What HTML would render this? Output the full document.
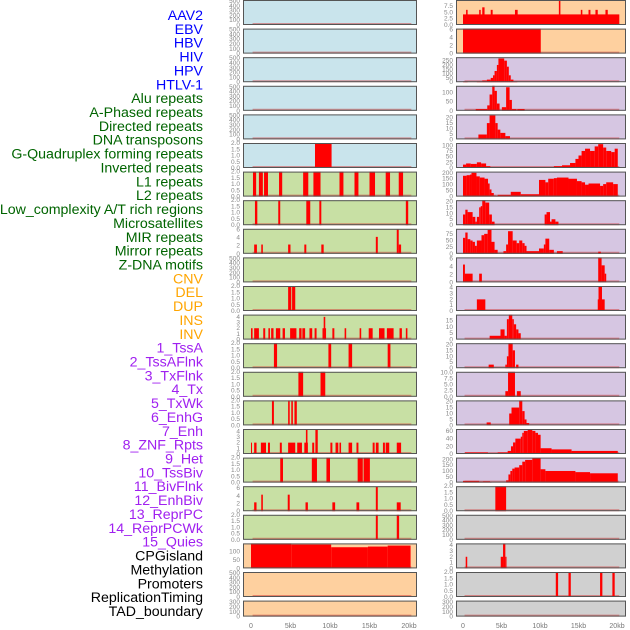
<!DOCTYPE html>
<html><head><meta charset="utf-8"><style>
html,body{margin:0;padding:0;background:#fff;width:630px;height:630px;overflow:hidden}
svg{display:block;font-family:"Liberation Sans",sans-serif}
</style></head><body>
<svg id="chart" width="630" height="630" viewBox="0 0 630 630" xmlns="http://www.w3.org/2000/svg"></svg>
<script>
const trackLabels = ["AAV2","EBV","HBV","HIV","HPV","HTLV-1","Alu repeats","A-Phased repeats","Directed repeats","DNA transposons","G-Quadruplex forming repeats","Inverted repeats","L1 repeats","L2 repeats","Low_complexity A/T rich regions","Microsatellites","MIR repeats","Mirror repeats","Z-DNA motifs","CNV","DEL","DUP","INS","INV","1_TssA","2_TssAFlnk","3_TxFlnk","4_Tx","5_TxWk","6_EnhG","7_Enh","8_ZNF_Rpts","9_Het","10_TssBiv","11_BivFlnk","12_EnhBiv","13_ReprPC","14_ReprPCWk","15_Quies","CPGisland","Methylation","Promoters","ReplicationTiming","TAD_boundary"];
const labelColors = ["#0000ff","#0000ff","#0000ff","#0000ff","#0000ff","#0000ff","#006400","#006400","#006400","#006400","#006400","#006400","#006400","#006400","#006400","#006400","#006400","#006400","#006400","#ffa500","#ffa500","#ffa500","#ffa500","#ffa500","#a020f0","#a020f0","#a020f0","#a020f0","#a020f0","#a020f0","#a020f0","#a020f0","#a020f0","#a020f0","#a020f0","#a020f0","#a020f0","#a020f0","#a020f0","#000000","#000000","#000000","#000000","#000000"];
const xTickKb = [0,5,10,15,20];
const xTickLabels = ["0","5kb","10kb","15kb","20kb"];
const T500=[0,100,200,300,400,500], T2=[0,0.5,1,1.5,2], T6=[0,2,4,6], T4=[0,1,2,3,4];
const segL0=[],segL1=[],segL2=[],segL3=[],segL4=[];
const segL5=[[8.1,10.2,2]];
const segL6=[[0.25,0.65,2],[1.0,1.5,2],[1.65,2.15,2],[3.55,3.95,2],[6.6,7.25,2],[7.9,8.8,2],[11.2,11.7,2],[13.1,13.6,2],[15.0,15.7,2],[17.05,17.6,2],[18.7,19.25,2]];
const segL7=[[0.5,0.8,2],[3.45,3.7,2],[7.0,7.5,2],[8.65,8.9,2],[19.6,19.9,2]];
const segL8=[[0.4,0.75,2.3],[1.3,1.5,2.3],[4.7,5.0,2.3],[6.75,7.0,2.3],[8.9,9.2,2.3],[15.8,16.05,4.2],[18.45,18.7,6],[18.7,19.0,2.3]];
const segL9=[];
const segL10=[[4.7,5.1,2],[5.2,5.6,2]];
const segL11=[[0,0.2,2],[0.4,1.0,2],[1.55,1.8,2],[2.2,2.4,2],[2.55,2.85,2],[3.15,3.7,2],[4.0,4.3,2],[4.95,5.75,2],[6.1,6.4,2],[6.5,6.85,2],[7.4,7.75,2],[8.05,8.3,2],[9.05,9.5,2],[9.2,9.4,4],[10.3,10.55,2],[11.85,12.05,2],[13.75,13.95,2],[14.9,15.4,2],[16.2,16.9,2],[17.2,18.05,2],[18.8,19.1,2],[19.6,19.8,2]];
const segL12=[[2.9,3.3,2],[9.8,10.15,2],[12.35,12.8,2],[17.3,17.65,2]];
const segL13=[[6.0,6.6,2],[8.8,9.4,2]];
const segL14=[[2.65,2.9,2],[4.7,4.9,2],[5.1,5.3,2],[5.5,5.8,2]];
const segL15=[[0,0.1,2],[0.4,0.7,2],[1.25,1.9,2],[2.15,2.4,2],[3.65,3.9,2],[4.7,5.6,2],[5.85,6.45,2],[6.75,7.2,2],[6.95,7.15,4.4],[7.75,8.0,2],[8.15,8.45,4.4],[10.05,10.3,2],[10.7,11.05,2],[11.2,11.4,2],[12.35,12.8,2],[13.35,13.6,2],[15.4,15.65,2],[15.8,16.15,2],[16.7,16.95,2],[17.05,17.5,2],[18.45,19.0,2]];
const segL16=[[3.7,4.05,2],[7.7,8.35,2],[9.55,10.0,2],[13.5,14.15,2],[14.25,15.05,2]];
const segL17=[[0.4,0.7,2.3],[1.3,1.5,4.3],[4.65,4.9,4.3],[6.9,7.2,2.3],[10.3,10.65,2.3],[13.35,13.7,2.3],[15.8,16.05,6.3],[18.45,18.95,2.3]];
const segL18=[[15.8,16.05,2],[18.45,18.75,2]];
const segL19=[[0,5.1,150],[5.1,10.15,143],[10.15,14.8,127],[14.8,17.3,131],[17.3,20.2,137]];
const segL20=[],segL21=[];
const segR0=[[0,20.3,4.2],[0.4,0.6,6],[2.1,2.3,6],[2.5,2.8,7],[3.6,3.85,6],[6.75,7.1,6],[12.45,12.65,10],[15.3,15.5,6],[16.3,16.55,6],[17.2,17.5,6],[18.5,18.8,6]];
const segR1=[[0,10.1,6.2]];
const segR2=[[0,0.6,10],[1.8,2.5,10],[2.5,3.1,20],[3.1,3.6,30],[3.6,3.9,50],[3.9,4.1,80],[4.1,4.4,130],[4.4,4.6,200],[4.6,5.35,275],[5.35,5.7,250],[5.7,5.95,180],[5.95,6.2,80],[6.2,6.55,30],[6.55,7.05,10]];
const segR3=[[1.65,3.15,10],[3.15,3.45,30],[3.45,3.8,90],[3.8,4.1,140],[4.1,4.4,110],[4.4,4.75,40],[5.05,5.6,20],[5.6,6.05,130],[6.05,6.35,60],[6.35,6.95,10],[7.05,8.0,10]];
const segR4=[[2.0,3.1,4.5],[3.1,3.45,15],[3.45,4.2,22],[4.2,4.5,15],[4.5,4.85,9],[4.85,5.5,6],[5.5,6.1,3]];
const segR5=[[0,0.4,15],[0.4,1.0,20],[1.0,1.8,18],[1.8,2.35,25],[2.35,3.0,20],[3.0,3.55,8],[11.8,12.86,8],[12.86,13.9,12],[13.9,14.6,22],[14.6,15.0,40],[15.0,15.4,55],[15.4,15.85,75],[15.85,16.5,85],[16.5,17.1,75],[17.1,17.56,95],[17.56,18.2,105],[18.2,18.6,90],[18.6,19.25,75],[19.25,19.7,70],[19.7,20.1,85]];
const segR6=[[0,0.47,175],[0.47,0.9,180],[0.9,1.1,185],[1.1,1.75,200],[1.75,2.18,170],[2.18,2.8,160],[2.8,3.25,150],[3.25,3.46,110],[3.46,3.7,60],[3.7,4.0,30],[4.0,4.25,10],[4.25,4.5,3],[4.5,6.2,15],[6.2,7.5,40],[7.5,9.87,20],[9.87,10.7,140],[10.7,11.07,120],[11.07,11.8,150],[11.8,12.2,155],[12.2,13.7,160],[13.7,14.8,150],[14.8,15.4,130],[15.4,15.85,120],[15.85,16.3,100],[16.3,17.8,110],[17.8,18.2,90],[18.2,18.6,105],[18.6,19.5,120],[19.5,20.1,105]];
const segR7=[[0,0.3,9],[0.3,0.6,13],[0.6,1.25,11],[1.25,1.6,7],[1.6,1.8,3],[1.8,2.1,7],[2.1,2.3,15],[2.3,2.5,16],[2.5,2.9,21],[2.9,3.4,19],[3.4,3.75,9],[3.75,4.1,3],[10.6,10.85,9],[10.85,11.3,11],[11.3,11.5,3],[11.5,12.0,5],[12.0,12.4,3]];
const segR8=[[0,0.3,60],[0.3,0.6,80],[0.6,0.95,55],[0.95,1.25,50],[1.25,1.55,45],[1.55,1.8,30],[1.8,2.4,50],[2.4,2.75,70],[2.75,3.2,75],[3.2,3.7,90],[3.7,4.1,45],[4.1,4.5,15],[5.25,5.6,10],[5.6,5.85,35],[5.85,6.45,85],[6.45,6.97,50],[6.97,7.3,40],[7.3,7.7,50],[7.7,8.0,40],[8.0,8.25,30],[8.25,9.87,10],[9.87,10.5,20],[10.5,10.7,35],[10.7,11.2,57],[11.2,11.8,15],[12.2,12.95,10],[17.56,17.9,8]];
const segR9=[[0,0.25,4.5],[0.25,1.25,2.2],[2.1,2.45,2.2],[17.56,18.0,6.3],[18.0,18.4,4.3],[18.4,18.6,2.2]];
const segR10=[[1.8,2.9,2],[17.5,17.6,2],[17.6,18.05,4.3],[18.05,18.4,2]];
const segR11=[[3.46,4.87,3],[4.87,5.4,8],[5.4,5.7,3],[5.7,5.95,16],[5.95,6.4,19.6],[6.4,6.6,16],[6.6,6.9,12],[6.9,7.2,8],[7.2,7.5,5]];
const segR12=[[3.33,4.0,3],[5.5,5.7,3],[5.7,5.9,10],[5.9,6.45,21],[6.45,6.75,15],[6.9,7.2,3]];
const segR13=[[5.5,5.85,2.3],[5.85,6.75,10.2],[7.0,7.5,2.3]];
const segR14=[[3.07,3.6,2.5],[6.0,6.3,10],[6.3,7.3,15],[7.3,7.7,21],[7.7,8.0,12],[8.0,8.25,5],[8.25,8.6,2]];
const segR15=[[0.26,3.24,4],[4.5,5.8,4],[5.8,6.23,8],[6.23,6.5,20],[6.5,6.8,30],[6.8,7.5,40],[7.5,7.7,45],[7.7,7.9,55],[7.9,8.4,60],[8.4,9.0,64],[9.0,9.4,60],[9.4,9.74,55],[9.74,10.08,50],[10.08,11.5,15],[11.5,14.1,12],[14.1,20.1,8]];
const segR16=[[0,2.1,15],[2.1,2.6,10],[2.6,3.5,12],[3.5,3.7,5],[5.6,5.9,20],[5.9,6.15,70],[6.15,6.4,100],[6.4,6.7,120],[6.7,7.3,130],[7.3,7.7,150],[7.7,8.07,180],[8.07,9.0,195],[9.0,10.08,210],[10.08,10.7,115],[10.7,14.6,100],[14.6,16.5,90],[16.5,20.1,80]];
const segR17=[[4.2,5.6,2]];
const segR18=[];
const segR19=[[0.35,0.55,2],[4.9,5.2,2],[5.2,5.5,4.3],[5.5,5.65,2]];
const segR20=[[12.05,12.35,2],[13.7,14.0,2],[17.8,18.1,2],[19.4,19.7,2]];
const segR21=[];

const leftMax=[520,520,520,520,520,2,2,2,6.2,520,2,4.4,2,2,2,4.4,2,6.5,2,150,520,520];
const leftTicks=[T500,T500,T500,T500,T500,T2,T2,T2,T6,T500,T2,T4,T2,T2,T2,T4,T2,T6,T2,[0,50,100],T500,T500];
const rightMax=[9.9,6.2,290,138,23,110,210,21,94,6.3,4.3,19.6,21,10.2,21,65,215,2,520,4.3,2,520];
const rightTicks=[[0,2.5,5,7.5],T6,[0,50,100,150,200,250],[0,50,100],[0,5,10,15,20],[0,25,50,75,100],[0,50,100,150,200],[0,5,10,15,20],[0,25,50,75],T6,T4,[0,5,10,15],[0,5,10,15,20],[0,2.5,5,7.5,10],[0,5,10,15,20],[0,20,40,60],[0,50,100,150,200],T2,T500,T4,T2,T500];
const leftSegs=[segL0,segL1,segL2,segL3,segL4,segL5,segL6,segL7,segL8,segL9,segL10,segL11,segL12,segL13,segL14,segL15,segL16,segL17,segL18,segL19,segL20,segL21];
const rightSegs=[segR0,segR1,segR2,segR3,segR4,segR5,segR6,segR7,segR8,segR9,segR10,segR11,segR12,segR13,segR14,segR15,segR16,segR17,segR18,segR19,segR20,segR21];

const NS="http://www.w3.org/2000/svg";
const svg=document.getElementById('chart');
function mk(tag,attrs,parent){const e=document.createElementNS(NS,tag);for(const k in attrs)e.setAttribute(k,attrs[k]);(parent||svg).appendChild(e);return e;}
const BLUE="#c9e4ec",GREEN="#c8e0a4",ORANGE="#fed09f",PURPLE="#d6c6e2",GRAY="#d0d0d0";
function leftBg(i){return i<6?BLUE:(i<19?GREEN:ORANGE);}
function rightBg(i){return i<2?ORANGE:(i<17?PURPLE:GRAY);}
const cols=[{x:243,w:174,x0:251,sc:7.9,segs:leftSegs,max:leftMax,ticks:leftTicks,bg:leftBg,name:'left'},
            {x:456,w:170,x0:463,sc:7.7,segs:rightSegs,max:rightMax,ticks:rightTicks,bg:rightBg,name:'right'}];
function fmt(v,ticks){const dec=ticks.some(t=>t%1!==0);return dec?v.toFixed(1):String(v);}
cols.forEach(c=>{
  for(let i=0;i<22;i++){
    const top=i*28.6, h=(i===21)?16:25, bot=top+h;
    const g=mk('g',{});
    
    
    mk('rect',{x:c.x,y:top,width:c.w,height:h,fill:c.bg(i)},g);
    const ymax=c.max[i];
    const yS=v=>bot-v/ymax*25;
    const xS=kb=>c.x0+kb*c.sc;
    c.ticks[i].forEach(t=>{
      const y=yS(t); if(y<top-3)return;
      const tx=mk('text',{x:c.x-3,y:y+2,'font-size':6.5,fill:'#888','text-anchor':'end'},g);
      tx.textContent=fmt(t,c.ticks[i]);
      
      
    });
    const bl=mk('line',{x1:xS(0.2),x2:xS(20.3),y1:bot-1,y2:bot-1,stroke:'rgba(210,40,40,0.45)','stroke-width':2},g);
    
    
    c.segs[i].forEach(s=>{
      const y=Math.max(top,yS(s[2]));
      const r=mk('rect',{x:xS(s[0]),y:y,width:Math.max(1,xS(s[1])-xS(s[0])),height:bot-y,fill:'#ff0000'},g);
      
      
    });
    mk('rect',{x:c.x+0.5,y:top+0.5,width:c.w-1,height:h-1,fill:'none',stroke:'#555','stroke-width':1},g);
  }
  xTickKb.forEach((k,j)=>{
    const t=mk('text',{x:c.x0+k*c.sc,y:628,'font-size':7,fill:'#777','text-anchor':'middle'});
    t.textContent=xTickLabels[j];
    
    
  });
});
trackLabels.forEach((l,i)=>{
  const t=mk('text',{x:203,y:20+i*13.86,'font-size':14.2,fill:labelColors[i],'text-anchor':'end'});
  t.textContent=l;
  
  
});
</script>
</body></html>
